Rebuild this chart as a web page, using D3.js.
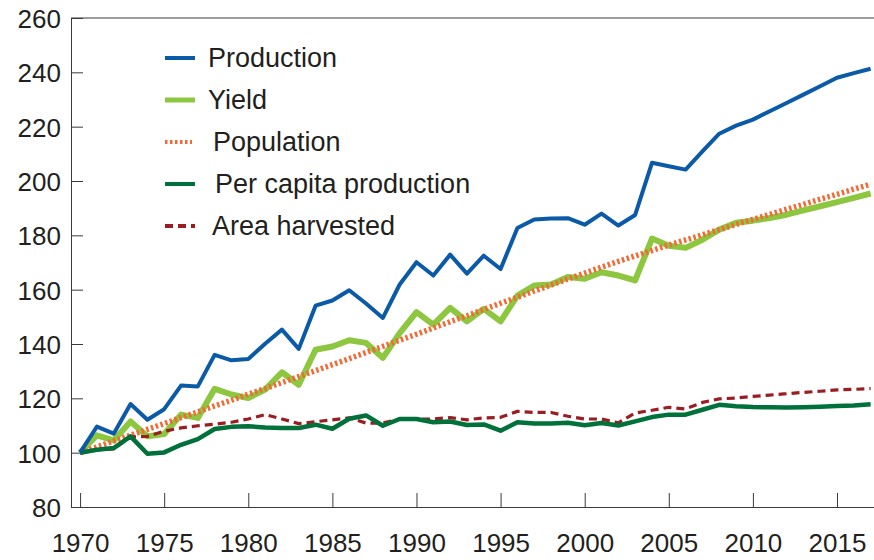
<!DOCTYPE html>
<html>
<head>
<meta charset="utf-8">
<script src="https://cdn.jsdelivr.net/npm/d3@7/dist/d3.min.js"></script>
<style>
  body { margin: 0; background: #fff; }
  svg { display: block; font-family: "Liberation Sans", Arial, sans-serif; }
  .axis text { fill: #231f20; font-size: 26px; }
  .axis path, .axis line { stroke: #3a3a3a; stroke-width: 1; }
  .legend text { fill: #231f20; font-size: 27px; }
</style>
</head>
<body>
<div id="chart"></div>
<script>
// index, 1970 = 100
var years = d3.range(1970, 2018);

var production = [100, 109.6, 107, 117.9, 112.1, 116, 124.7, 124.4, 136, 134,
  134.5, 140.1, 145.3, 138.2, 154.1, 156, 159.8, 154.9, 149.6, 161.9,
  170.1, 165.2, 172.9, 165.9, 172.5, 167.6, 182.7, 185.8, 186.2, 186.3,
  183.9, 188, 183.6, 187.5, 206.7, 205.4, 204.2, 210.9, 217.4, 220.4,
  222.6, 225.7, 228.7, 231.8, 234.9, 238, 239.7, 241.3];

var yieldIdx = [100, 106.4, 104.5, 111.5, 106, 106.9, 114, 112.8, 123.5, 121.4,
  120.1, 123.2, 129.6, 125, 137.9, 139.1, 141.4, 140.4, 134.9, 144,
  151.7, 147.1, 153.3, 148.3, 152.9, 148.3, 157.8, 161.5, 161.9, 164.7,
  164, 166.4, 165.2, 163.4, 178.8, 176.2, 175.4, 178.4, 182.1, 184.6,
  185.4, 186.4, 187.6, 189.2, 190.7, 192.2, 193.8, 195.4];

var population = [100, 102.1, 104.3, 106.4, 108.6, 110.7, 112.9, 115, 117.2, 119.3,
  121.5, 123.6, 125.8, 128, 130.2, 132.4, 134.6, 136.9, 139.1, 141.4,
  143.6, 145.9, 148.2, 150.4, 152.7, 155, 157.2, 159.5, 161.7, 163.9,
  166.1, 168.3, 170.4, 172.4, 174.4, 176.4, 178.3, 180.2, 182.1, 184,
  185.9, 187.7, 189.6, 191.4, 193.3, 195.1, 197, 198.8];

var perCapita = [100, 101.1, 101.7, 106, 99.6, 100.1, 102.9, 105, 108.7, 109.5,
  109.7, 109.3, 109.1, 109.1, 110.3, 108.8, 112.5, 113.7, 109.9, 112.4,
  112.4, 111.2, 111.5, 110.2, 110.4, 108.1, 111.2, 110.7, 110.7, 111,
  110.1, 110.9, 110, 111.5, 113.1, 114, 114, 115.8, 117.6, 117.1,
  116.8, 116.7, 116.6, 116.7, 116.9, 117.2, 117.4, 117.8];

var areaHarvested = [100, 101, 101.4, 105.8, 106, 107.9, 109.1, 109.9, 110.5, 111.2,
  112.4, 114, 112.4, 110.7, 111.4, 112.1, 112.8, 110.9, 110.9, 112.4,
  112.4, 112.4, 112.9, 112.1, 112.8, 113, 115.2, 114.8, 114.8, 113.4,
  112.4, 112.4, 111, 114.6, 115.6, 116.7, 116.1, 118.5, 119.8, 120.1,
  120.7, 121.2, 121.7, 122.2, 122.6, 123.1, 123.3, 123.6];

var yTicks = [80, 100, 120, 140, 160, 180, 200, 220, 240, 260];
var xTicks = [1970, 1975, 1980, 1985, 1990, 1995, 2000, 2005, 2010, 2015];

// drawing order: bottom first
var series = [
  {name: "Yield",                 values: yieldIdx,      color: "#8dc63f", width: 6,   dash: null},
  {name: "Population",            values: population,    color: "#f26a36", width: 5.5, dash: "2.5,2.5"},
  {name: "Area harvested",        values: areaHarvested, color: "#9b1d22", width: 3.2, dash: "8,5"},
  {name: "Per capita production", values: perCapita,     color: "#00713a", width: 4.5, dash: null},
  {name: "Production",            values: production,    color: "#0b5aa8", width: 4,   dash: null}
];
var legendOrder = ["Production", "Yield", "Population", "Per capita production", "Area harvested"];

var width = 874, height = 560;
var plotLeft = 71, plotRight = 874, plotTop = 18, plotBottom = 507;

var svg = d3.select("#chart").append("svg")
    .attr("width", width)
    .attr("height", height);

var x = d3.scaleLinear().domain([1969.46, 2017.2]).range([plotLeft, plotRight]);
var y = d3.scaleLinear().domain([80, 260]).range([plotBottom, plotTop]);

// top frame line
svg.append("line")
    .attr("x1", plotLeft).attr("x2", plotRight)
    .attr("y1", y(260)).attr("y2", y(260))
    .attr("stroke", "#3a3a3a");

var yAxis = d3.axisLeft(y)
    .tickValues(yTicks)
    .tickFormat(d3.format("d"))
    .tickSizeInner(-12)
    .tickSizeOuter(0)
    .tickPadding(10);

svg.append("g")
    .attr("class", "axis")
    .attr("transform", "translate(" + plotLeft + ",0)")
    .call(yAxis)
    .selectAll("text").attr("dy", "0.36em");

var xAxis = d3.axisBottom(x)
    .tickValues(xTicks)
    .tickFormat(d3.format("d"))
    .tickSizeInner(-14)
    .tickSizeOuter(0)
    .tickPadding(27);

svg.append("g")
    .attr("class", "axis")
    .attr("transform", "translate(0," + plotBottom + ")")
    .call(xAxis);

var line = d3.line()
    .x(function(d, i) { return x(years[i]); })
    .y(function(d) { return y(d); });

series.forEach(function(s) {
  svg.append("path")
      .datum(s.values)
      .attr("d", line)
      .attr("fill", "none")
      .attr("stroke", s.color)
      .attr("stroke-width", s.width)
      .attr("stroke-linejoin", "round")
      .attr("stroke-dasharray", s.dash);
});

// legend
var lg = svg.append("g").attr("class", "legend");
var textX = [208, 208, 213, 215, 212];
legendOrder.forEach(function(name, i) {
  var s = series.find(function(d) { return d.name == name; });
  var cy = 58 + i * 42;
  lg.append("line")
      .attr("x1", 165).attr("x2", name == "Population" ? 192 : 195)
      .attr("y1", cy).attr("y2", cy)
      .attr("stroke", s.color)
      .attr("stroke-width", s.width == 6 ? 5 : 4)
      .attr("stroke-dasharray", s.dash);
  lg.append("text")
      .attr("x", textX[i])
      .attr("y", cy + 9)
      .text(name);
});
</script>
</body>
</html>
